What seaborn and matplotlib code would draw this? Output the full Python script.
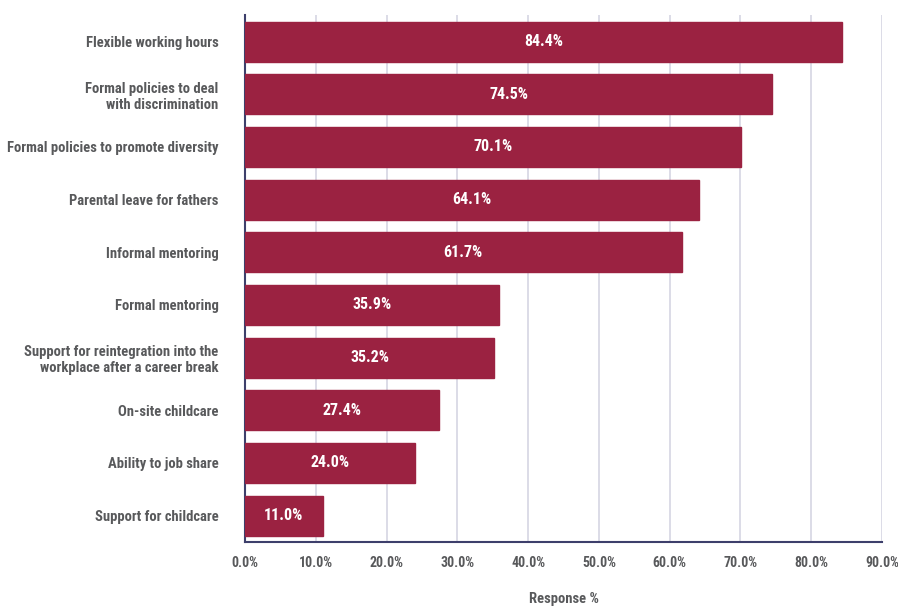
import matplotlib
matplotlib.use("Agg")
import matplotlib.pyplot as plt
from matplotlib import font_manager
import seaborn as sns
import pandas as pd

categories = [
    "Flexible working hours",
    "Formal policies to deal\nwith discrimination",
    "Formal policies to promote diversity",
    "Parental leave for fathers",
    "Informal mentoring",
    "Formal mentoring",
    "Support for reintegration into the\nworkplace after a career break",
    "On-site childcare",
    "Ability to job share",
    "Support for childcare",
]
values = [84.4, 74.5, 70.1, 64.1, 61.7, 35.9, 35.2, 27.4, 24.0, 11.0]
xticks = [0, 10, 20, 30, 40, 50, 60, 70, 80, 90]

names = {f.name for f in font_manager.fontManager.ttflist}
fam = "DejaVu Sans"
for cand in ["Roboto Condensed", "Liberation Sans Narrow", "Open Sans Condensed", "DejaVu Sans Condensed"]:
    if cand in names:
        fam = cand
        break

sns.set_theme(style="white")
plt.rcParams["font.family"] = [fam, "DejaVu Sans"]
plt.rcParams["font.stretch"] = "condensed"

df = pd.DataFrame({"cat": categories, "val": values})
fig = plt.figure(figsize=(8.98, 6.10), dpi=100)
ax = fig.add_axes([0.2728, 0.1115, 0.7094, 0.8635])
bar_color = "#9B2241"
sns.barplot(data=df, x="val", y="cat", color=bar_color, width=0.76, ax=ax,
            saturation=1, edgecolor=bar_color, zorder=3)

ax.set_xlim(0, 90)
ax.set_xticks(xticks)
ax.set_xticklabels([f"{t:.1f}%" for t in xticks])
ax.grid(axis="x", color="#D5D5E3", linewidth=1.2, zorder=0)
ax.set_axisbelow(True)
for s in ["top", "right"]:
    ax.spines[s].set_visible(False)
for s in ["left", "bottom"]:
    ax.spines[s].set_color("#3D3F6B")
    ax.spines[s].set_linewidth(1.5)

txt_color = "#58595B"
ax.tick_params(axis="x", length=0, pad=10, labelcolor=txt_color, labelsize=10)
ax.tick_params(axis="y", length=0, pad=19, labelcolor=txt_color, labelsize=10.5)
for lab in ax.get_yticklabels() + ax.get_xticklabels():
    lab.set_fontweight("bold")
ax.set_ylabel("")
ax.set_xlabel("Response %", color=txt_color, fontsize=10.5, fontweight="bold", labelpad=16)

for p, v in zip(ax.patches, values):
    cx = p.get_x() + p.get_width() / 2
    cy = p.get_y() + p.get_height() / 2
    ax.text(cx, cy, f"{v:.1f}%", ha="center", va="center", color="white",
            fontsize=11.5, fontweight="bold", zorder=4)

fig.savefig("out.png", dpi=100)
